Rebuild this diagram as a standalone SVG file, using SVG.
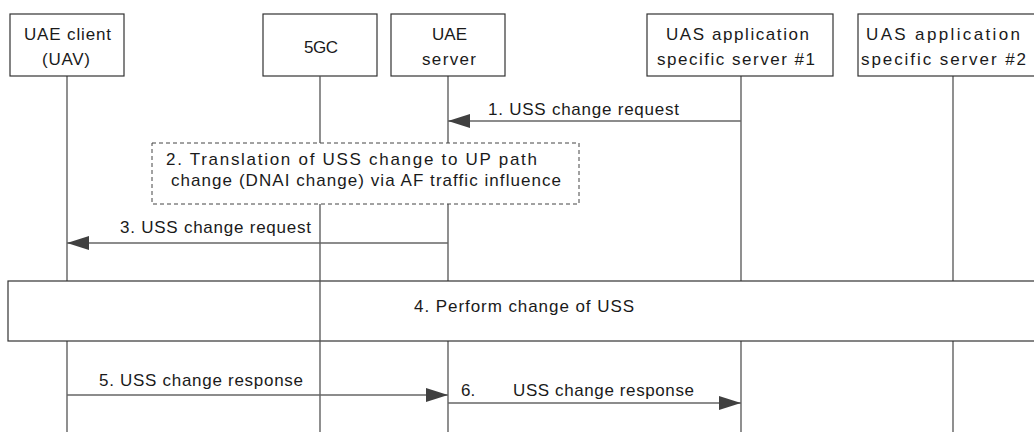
<svg xmlns="http://www.w3.org/2000/svg" width="1034" height="432" viewBox="0 0 1034 432">
<style>
text{font-family:"Liberation Sans",Arial,sans-serif;font-size:17px;fill:#1a1a1a}
.box{fill:#fff;stroke:#333;stroke-width:1.2}
.dash{fill:#fff;stroke:#444;stroke-width:1;stroke-dasharray:4,3}
.life{stroke:#555;stroke-width:1.3;fill:none}
.msg{stroke:#666;stroke-width:1.3;fill:none;marker-end:url(#ah)}
</style>
<defs>
<marker id="ah" markerUnits="userSpaceOnUse" markerWidth="22" markerHeight="14" refX="22" refY="7" orient="auto">
<path d="M0,0 L22,7 L0,14 z" fill="#404040"/>
</marker>
</defs>
<rect width="1034" height="432" fill="#fff"/>
<g id="lifelines">
<path class="life" d="M67,76V281M67,341V432"/>
<path class="life" d="M448,76V143M448,204V281M448,341V432"/>
<path class="life" d="M741,76V281M741,341V432"/>
<path class="life" d="M953,76V281M953,341V432"/>
</g>
<g id="uae-client"><rect class="box" x="10" y="14" width="114" height="62"/>
<text x="24" y="40" textLength="87" lengthAdjust="spacing">UAE client</text>
<text x="42" y="65" textLength="48" lengthAdjust="spacing">(UAV)</text></g>
<g id="fivegc"><rect class="box" x="263" y="14" width="114" height="62"/>
<text x="304" y="53" textLength="34" lengthAdjust="spacing">5GC</text></g>
<g id="uae-server"><rect class="box" x="391" y="14" width="114" height="62"/>
<text x="432" y="40" textLength="35" lengthAdjust="spacing">UAE</text>
<text x="422" y="65" textLength="54" lengthAdjust="spacing">server</text></g>
<g id="uas1"><rect class="box" x="647" y="14" width="186" height="62"/>
<text x="666" y="40" textLength="143" lengthAdjust="spacing">UAS application</text>
<text x="657" y="65" textLength="158" lengthAdjust="spacing">specific server #1</text></g>
<g id="uas2"><rect class="box" x="858" y="14" width="190" height="62"/>
<text x="866" y="40" textLength="154" lengthAdjust="spacing">UAS application</text>
<text x="861" y="65" textLength="165" lengthAdjust="spacing">specific server #2</text></g>
<g id="step2"><rect class="dash" x="152" y="143" width="427" height="61"/>
<text x="166" y="165" textLength="371" lengthAdjust="spacing">2. Translation of USS change to UP path</text>
<text x="171" y="186" textLength="390" lengthAdjust="spacing">change (DNAI change) via AF traffic influence</text></g>
<g id="step4"><rect class="box" x="8" y="281" width="1040" height="60"/>
<text x="414" y="312" textLength="220" lengthAdjust="spacing">4. Perform change of USS</text></g>
<g id="lifeline-5gc"><path class="life" d="M320,76V143M320,204V432"/></g>
<g id="connectors">
<line class="msg" x1="741" y1="121" x2="448" y2="121"/>
<text x="488" y="115" textLength="191" lengthAdjust="spacing">1. USS change request</text>
<line class="msg" x1="448" y1="243" x2="67" y2="243"/>
<text x="120" y="233" textLength="191" lengthAdjust="spacing">3. USS change request</text>
<line class="msg" x1="67" y1="395" x2="448" y2="395"/>
<text x="99" y="386" textLength="204" lengthAdjust="spacing">5. USS change response</text>
<line class="msg" x1="448" y1="403" x2="741" y2="403"/>
<text y="396"><tspan x="461">6. </tspan><tspan x="513" textLength="181" lengthAdjust="spacing">USS change response</tspan></text>
</g>
</svg>
